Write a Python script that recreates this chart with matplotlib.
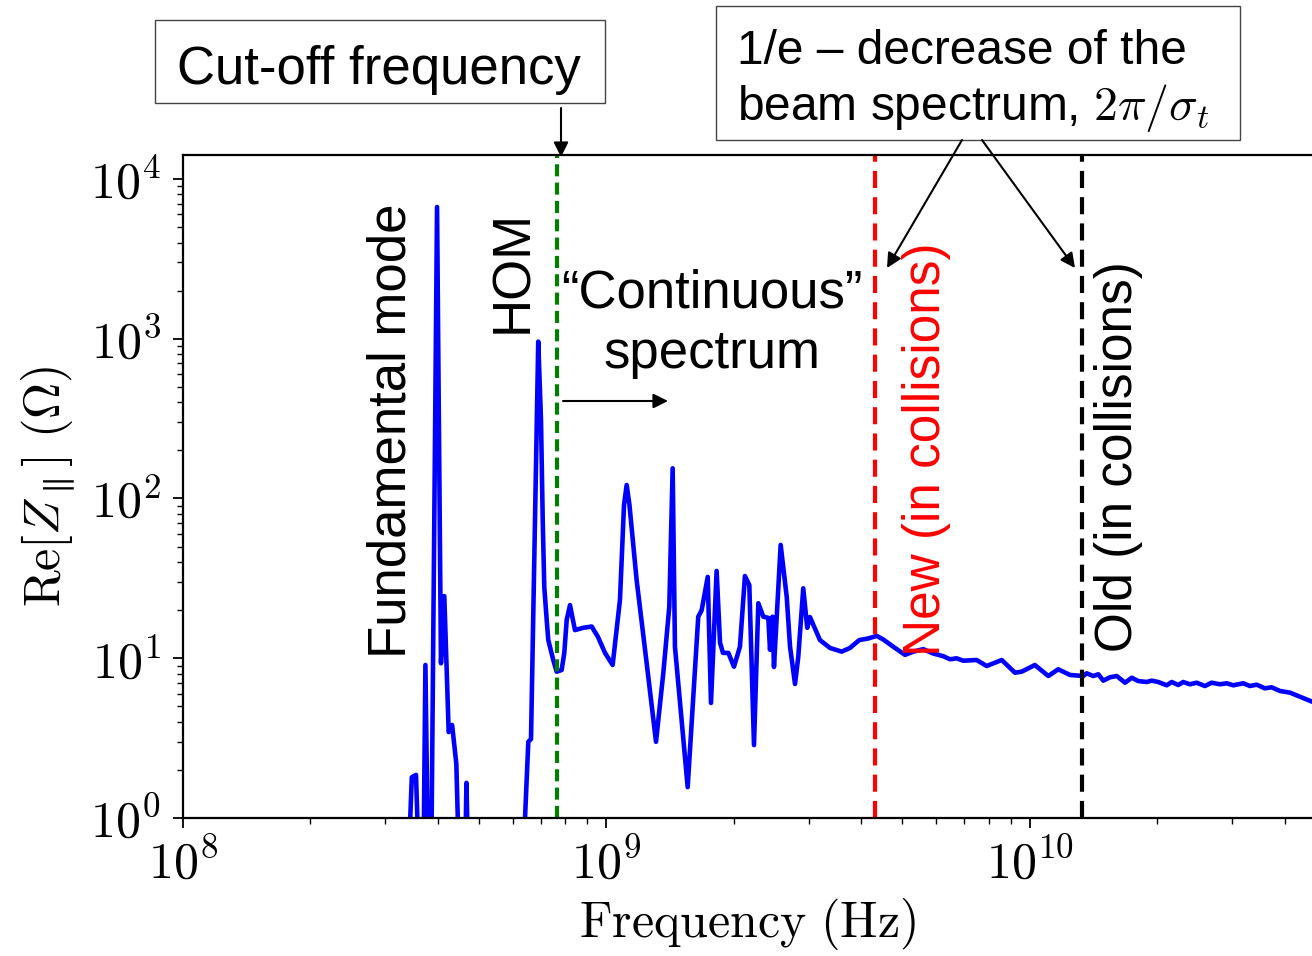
import numpy as np
import matplotlib
matplotlib.use("Agg")
import matplotlib.pyplot as plt
from matplotlib.patches import Rectangle, FancyArrowPatch
from matplotlib.ticker import FuncFormatter, NullFormatter, LogLocator

# Re[Z_par] (Ohm) vs frequency (GHz)
# fundamental mode (values < 1 Ohm drop below the axis)
fund_f = [0.338, 0.347, 0.355, 0.3627, 0.369, 0.3736, 0.380, 0.385, 0.398, 0.4066,
          0.414, 0.424, 0.432, 0.442, 0.451, 0.462, 0.467, 0.4735]
fund_z = [0.3, 1.80, 1.86, 0.3, 0.3, 9.07, 0.3, 0.3, 6680, 9.3,
          24.5, 3.45, 3.82, 2.18, 0.3, 0.3, 1.66, 0.3]

# HOM peak and the cut-off region
hom_f = [0.635, 0.6537, 0.6634, 0.690, 0.7004, 0.7070, 0.7130, 0.7224, 0.7287, 0.7487,
         0.7626, 0.7837, 0.7950, 0.8055, 0.8200, 0.8426, 0.880, 0.9226, 0.9548, 0.992]
hom_z = [0.5, 3.00, 3.12, 959, 310, 73.4, 28.0, 17.4, 13.0, 9.75,
         8.24, 8.44, 10.8, 17.4, 21.5, 15.0, 15.5, 15.8, 13.6, 10.8]

# "continuous" spectrum, 1 - 4.5 GHz
mid_f = [1.034, 1.076, 1.100, 1.116, 1.133, 1.178, 1.244, 1.309, 1.362, 1.407,
         1.433, 1.451, 1.555, 1.647, 1.678, 1.734, 1.765, 1.820, 1.854, 1.884,
         1.940, 2.000, 2.066, 2.123, 2.174, 2.230, 2.283, 2.346, 2.410, 2.433,
         2.466, 2.486, 2.578, 2.664, 2.713, 2.787, 2.837, 2.915, 2.979, 3.023,
         3.192, 3.370, 3.593, 3.758, 3.953, 4.152, 4.346, 4.504]
mid_z = [9.07, 23.2, 91, 121.5, 91, 30.9, 9.34, 3.00, 8.08, 21.0,
         154.5, 11.8, 1.56, 18.2, 20.0, 32.3, 5.25, 35.2, 12.5, 10.8,
         10.8, 8.85, 11.8, 32.7, 28.7, 2.86, 22.1, 18.2, 17.9, 11.3,
         18.2, 8.82, 51.2, 24.3, 11.8, 6.90, 10.2, 27.4, 15.5, 18.1,
         13.0, 11.6, 11.0, 11.6, 13.0, 13.3, 13.8, 13.1]

# slowly falling tail
tail_f = [4.756, 5.068, 5.302, 5.598, 5.911, 6.241, 6.472, 6.712, 6.959, 7.483,
          7.903, 8.576, 9.218, 9.559, 10.27, 11.05, 11.66, 12.43, 13.36, 13.61,
          14.11, 14.50, 14.90, 15.45, 16.03, 16.77, 17.39, 18.02, 18.86, 19.38,
          20.09, 21.03, 21.61, 22.40, 23.01, 23.87, 24.75, 25.89, 26.85, 28.09,
          29.14, 30.20, 31.89, 33.07, 34.30, 35.88, 37.21, 38.93, 41.12, 43.41,
          46.34, 48.4]
tail_z = [11.8, 10.5, 11.0, 11.4, 10.7, 10.3, 9.85, 9.99, 9.65, 9.75,
          8.94, 9.75, 8.12, 8.24, 9.07, 7.74, 8.53, 7.86, 7.74, 8.05,
          7.74, 7.94, 7.24, 7.60, 7.74, 7.03, 7.55, 7.20, 7.10, 7.24,
          7.10, 6.77, 7.10, 6.80, 7.10, 6.87, 7.03, 6.70, 7.03, 6.87,
          6.97, 6.77, 6.97, 6.70, 6.83, 6.48, 6.58, 6.24, 6.09, 5.74,
          5.35, 5.17]

# marker frequencies (GHz)
f_cutoff = 0.764
f_new = 4.317
f_old = 13.27

plt.rcParams["font.family"] = ["Liberation Sans", "DejaVu Sans"]
plt.rcParams["mathtext.fontset"] = "cm"

W, H = 1312, 956
fig = plt.figure(figsize=(W / 100, H / 100), dpi=100)
ax = fig.add_axes([183 / W, 138 / H, 1129 / W, 663 / H])

freq = np.concatenate([fund_f, hom_f, mid_f, tail_f]) * 1e9
z = np.concatenate([fund_z, hom_z, mid_z, tail_z])
ax.plot(freq, z, color="#0000ff", lw=3.3, solid_joinstyle="round", solid_capstyle="round")

ax.axvline(f_cutoff * 1e9, color="green", lw=3, ls=(0, (2.9, 1.5)))
ax.axvline(f_new * 1e9, color="red", lw=3, ls=(0, (4.1, 2.2)))
ax.axvline(f_old * 1e9, color="black", lw=3, ls=(0, (4.1, 2.2)))

ax.set_xscale("log")
ax.set_yscale("log")
ax.set_xlim(1e8, 4.634e10)
ax.set_ylim(1, 10 ** 4.15)

fmt = FuncFormatter(lambda v, p: r"$10^{%d}$" % int(round(np.log10(v))))
for axis in (ax.xaxis, ax.yaxis):
    axis.set_major_locator(LogLocator(base=10))
    axis.set_major_formatter(fmt)
    axis.set_minor_formatter(NullFormatter())
ax.tick_params(which="major", direction="out", length=7, width=1.3, labelsize=36)
ax.tick_params(which="minor", direction="out", length=4, width=1.0)
ax.tick_params(axis="x", pad=8)
ax.tick_params(axis="y", pad=9)
ax.spines["right"].set_visible(False)
for s in ("left", "bottom", "top"):
    ax.spines[s].set_linewidth(1.6)

ax.set_xlabel(r"$\mathrm{Frequency\ (Hz)}$", fontsize=36, labelpad=6)
ax.set_ylabel(r"$\mathrm{Re}[Z_{\parallel}]\ (\Omega)$", fontsize=36, labelpad=9)


def px(x, y):
    return x / W, 1 - y / H


# annotation boxes
fig.add_artist(Rectangle(px(155, 103), 450 / W, 83 / H, transform=fig.transFigure,
                         fc="white", ec="#444444", lw=1))
fig.text(*px(177, 84), "Cut-off frequency", fontsize=38, ha="left", va="baseline")

fig.add_artist(Rectangle(px(716, 140), 524 / W, 134 / H, transform=fig.transFigure,
                         fc="white", ec="#444444", lw=1))
fig.text(*px(737, 64), "1/e – decrease of the", fontsize=34.5, ha="left", va="baseline")
fig.text(*px(737, 120), r"beam spectrum, $2\pi/\sigma_t$", fontsize=34.5,
         ha="left", va="baseline")

fig.text(*px(712, 308), "“Continuous”", fontsize=38, ha="center", va="baseline")
fig.text(*px(712, 368), "spectrum", fontsize=38, ha="center", va="baseline")

rot = dict(rotation=90, rotation_mode="anchor", ha="center", va="baseline")
fig.text(*px(405, 431), "Fundamental mode", fontsize=38, **rot)
fig.text(*px(527, 271), "HOM", fontsize=38, **rot)
fig.text(*px(940, 449), "New (in collisions)", fontsize=37, color="red", **rot)
fig.text(*px(1132, 457), "Old (in collisions)", fontsize=37, color="black", **rot)

arrows = [((561, 108), (561, 157)),
          ((563, 401), (668, 401)),
          ((962, 140), (887, 268)),
          ((982, 140), (1075, 268))]
for a, b in arrows:
    fig.add_artist(FancyArrowPatch(px(*a), px(*b), transform=fig.transFigure,
                                   arrowstyle="-|>", mutation_scale=22, lw=1.5,
                                   color="black", shrinkA=0, shrinkB=0))

fig.savefig("out.png", dpi=100)
